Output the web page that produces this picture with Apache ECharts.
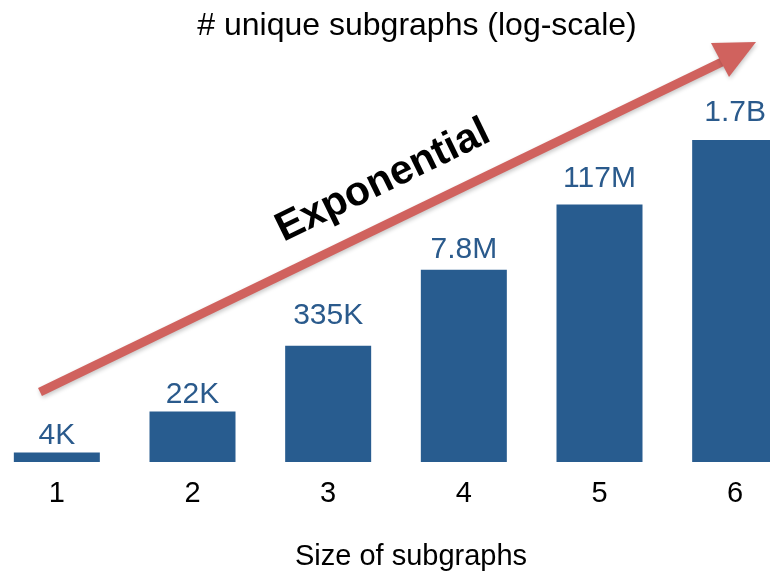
<!DOCTYPE html>
<html>
<head>
<meta charset="utf-8">
<title>Unique subgraphs by size</title>
<script src="https://cdn.jsdelivr.net/npm/echarts@6/dist/echarts.min.js"></script>
<style>
  html, body { margin: 0; padding: 0; background: #fff; }
  #chart { width: 770px; height: 572px; }
</style>
</head>
<body>
<div id="chart"></div>
<script>
// Subgraph sizes and the number of unique subgraphs of each size
const sizes = ['1', '2', '3', '4', '5', '6'];
const uniqueCounts = [4e3, 22e3, 335e3, 7.8e6, 117e6, 1.7e9];
const countLabels = ['4K', '22K', '335K', '7.8M', '117M', '1.7B'];

const FONT = '"Liberation Sans", Arial, sans-serif';
const BAR_COLOR = '#285c8f';
const ARROW_COLOR = '#d0625e';
// gap between each value label and the top of its bar (hand-placed labels)
const LABEL_GAPS = [2, 2, 15, 5, 11, 12];

const chart = echarts.init(document.getElementById('chart'), null, { renderer: 'canvas' });

const deg = Math.PI / 180;

chart.setOption({
  backgroundColor: '#ffffff',
  animation: false,
  title: {
    text: '# unique subgraphs (log-scale)',
    left: 412,
    top: 5,
    textAlign: 'center',
    textStyle: { fontFamily: FONT, fontSize: 32, fontWeight: 'normal', color: '#000' }
  },
  // the category band runs a little past both edges, so the last bar is cut off
  grid: { left: -11, width: 814, top: 140, bottom: 110, outerBoundsMode: 'none', containLabel: false },
  xAxis: {
    type: 'category',
    data: sizes,
    axisLine: { show: false },
    axisTick: { show: false },
    axisLabel: { fontFamily: FONT, fontSize: 29, color: '#000', margin: 17 },
    name: 'Size of subgraphs',
    nameLocation: 'middle',
    nameGap: 80,
    nameTextStyle: { fontFamily: FONT, fontSize: 29, color: '#000', padding: [0, 0, 0, 30] }
  },
  yAxis: {
    type: 'log',
    logBase: 10,
    min: 2700,
    max: 1.7e9,
    show: false,
    splitLine: { show: false }
  },
  series: [{
    type: 'bar',
    data: uniqueCounts.map((v, i) => ({ value: v, label: { distance: LABEL_GAPS[i] } })),
    barWidth: 86,
    itemStyle: { color: BAR_COLOR },
    label: {
      show: true,
      position: 'top',
      fontFamily: FONT,
      fontSize: 30,
      color: '#2a5a8c',
      formatter: p => countLabels[p.dataIndex]
    }
  }],
  graphic: [
    {
      type: 'group',
      children: [
        {
          type: 'line',
          shape: { x1: 40, y1: 392, x2: 724, y2: 61 },
          style: {
            stroke: ARROW_COLOR, lineWidth: 9,
            shadowBlur: 4, shadowColor: 'rgba(0,0,0,0.22)', shadowOffsetX: 1, shadowOffsetY: 2
          }
        },
        {
          type: 'polygon',
          shape: { points: [[756, 42], [711, 43], [729, 77]] },
          style: {
            fill: ARROW_COLOR,
            shadowBlur: 4, shadowColor: 'rgba(0,0,0,0.22)', shadowOffsetX: 1, shadowOffsetY: 2
          }
        }
      ]
    },
    {
      type: 'text',
      x: 383,
      y: 181,
      rotation: 26 * deg,
      style: {
        text: 'Exponential',
        font: 'bold 41px ' + FONT,
        fill: '#000',
        align: 'center',
        verticalAlign: 'middle',
        shadowBlur: 3, shadowColor: 'rgba(0,0,0,0.2)', shadowOffsetX: 1, shadowOffsetY: 1
      }
    }
  ]
});
</script>
</body>
</html>
